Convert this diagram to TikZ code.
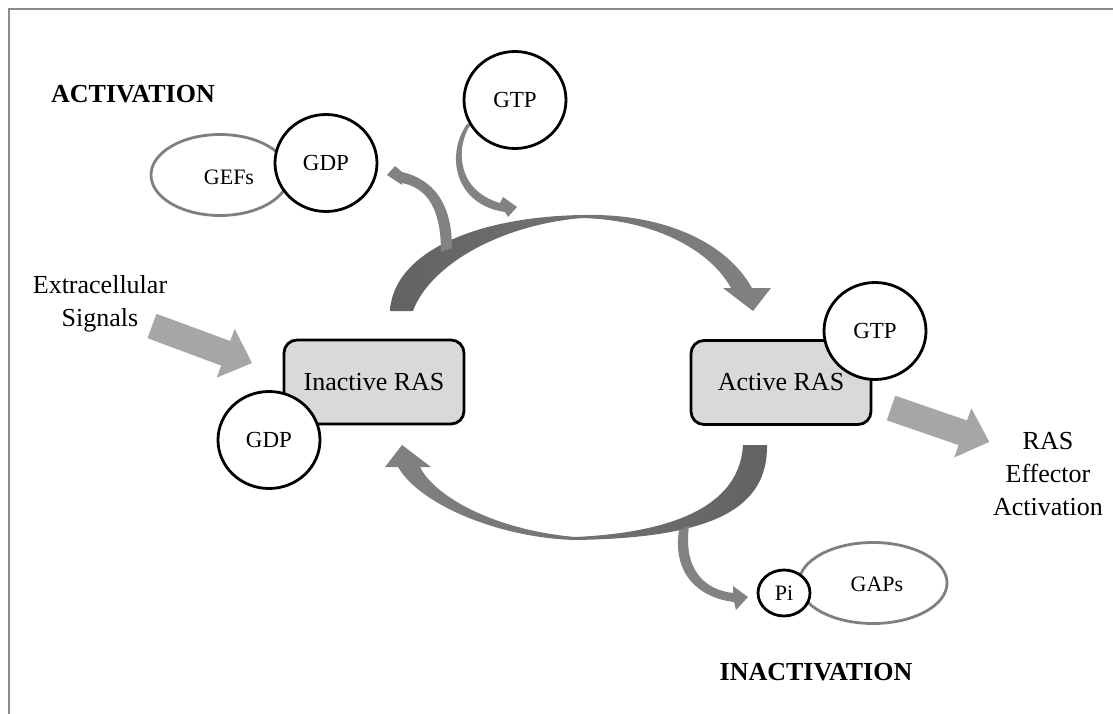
\documentclass[tikz,border=0pt]{standalone}
\usepackage{fontspec}
\setmainfont{Liberation Serif}
\usetikzlibrary{shapes.geometric}
\definecolor{boxgray}{HTML}{D9D9D9}
\definecolor{arrowlight}{HTML}{A6A6A6}
\definecolor{arcdark}{HTML}{626262}
\definecolor{arcmid}{HTML}{828282}
\definecolor{ellgray}{HTML}{7F7F7F}
\definecolor{framegray}{HTML}{8C8C8C}
\begin{document}
\begin{tikzpicture}[x=1pt,y=-1pt,
  mol/.style={ellipse, draw=black, line width=2.8pt, fill=white, minimum width=102pt, minimum height=97pt, inner sep=0pt, font=\fontsize{23}{25}\selectfont},
  enz/.style={ellipse, draw=ellgray, line width=2.8pt, fill=white, inner sep=0pt, font=\fontsize{22}{24}\selectfont},
  rasbox/.style={rectangle, rounded corners=13pt, draw=black, line width=2.8pt, fill=boxgray, minimum width=180pt, minimum height=84pt, inner sep=0pt, font=\fontsize{26}{28}\selectfont},
  lbl/.style={font=\fontsize{26}{33}\selectfont, align=center, inner sep=0pt},
  stage/.style={font=\bfseries\fontsize{26}{28}\selectfont, inner sep=0pt},
  blockarrow/.style={fill=arrowlight, draw=none},
  flow/.style={fill=arcmid, draw=none}]
\useasboundingbox (0,0) rectangle (1113,714);
% frame
\draw[framegray, line width=2pt] (9,714) -- (9,9) -- (1113,9);

% top arc (inactive -> active)
\path[left color=arcdark, right color=arcmid]
  (390,311) .. controls (393,255) and (470,217) .. (582,215)
  .. controls (660,213) and (725,240) .. (752,288)
  -- (771,288) -- (753,311) -- (723,288) -- (731,288)
  .. controls (710,250) and (655,220) .. (582,218)
  .. controls (500,225) and (430,265) .. (413,311) -- cycle;
% GDP release branch
\path[flow]
  (452,248) .. controls (452,205) and (435,180) .. (402,172)
  -- (395,166) -- (387,175) -- (402,185) -- (402,183)
  .. controls (428,188) and (441,210) .. (441,252) -- cycle;
% GTP uptake branch
\path[flow]
  (471,124) .. controls (456,145) and (455,190) .. (500,203)
  -- (503,197) -- (517,207) -- (508,217) -- (505,212)
  .. controls (455,205) and (445,155) .. (467,124) -- cycle;

% bottom arc (active -> inactive)
\path[left color=arcmid, right color=arcdark]
  (767,445) .. controls (768,510) and (710,538) .. (575,540)
  .. controls (500,538) and (420,505) .. (398,467)
  -- (385,467) -- (402,445) -- (431,467) -- (420,467)
  .. controls (435,497) and (495,530) .. (575,537)
  .. controls (685,532) and (740,500) .. (743,445) -- cycle;
% Pi release branch
\path[flow]
  (679,530) .. controls (672,575) and (700,598) .. (734,602)
  -- (736,610) -- (748,597) -- (733,586) -- (733,593)
  .. controls (705,590) and (683,570) .. (689,526) -- cycle;

% straight block arrows
\path[blockarrow] (147.5,338.2) -- (156.5,313.8) -- (230.2,341.0) -- (234.7,328.9)
  -- (252,363) -- (216.7,377.7) -- (221.2,365.6) -- cycle;
\path[blockarrow] (886.8,420.3) -- (895.2,395.7) -- (967.0,420.5) -- (971.3,408.2)
  -- (989.3,441.9) -- (954.3,457.4) -- (958.6,445.1) -- cycle;

% enzymes
\node[enz, minimum width=138pt, minimum height=81pt] (gefs) at (220,175) {};
\node[enz, minimum width=148pt, minimum height=81pt] (gaps) at (873,583) {};
\node[font=\fontsize{22}{24}\selectfont] (gefslbl) at (229,177) {GEFs};
\node[font=\fontsize{22}{24}\selectfont] (gapslbl) at (877,584) {GAPs};

% nucleotides
\node[mol] (gdptop) at (326,163) {GDP};
\node[mol] (gtptop) at (515,100) {GTP};
\node[mol, minimum width=52pt, minimum height=46pt, font=\fontsize{22}{24}\selectfont] (pi) at (784,593) {Pi};

% RAS boxes
\node[rasbox] (inactive) at (374,382) {Inactive RAS};
\node[rasbox] (active) at (781,382.5) {Active RAS};
\node[mol] (gdpbot) at (269,440) {GDP};
\node[mol] (gtpright) at (875,331) {GTP};

% labels
\node[stage] (act) at (133,94) {ACTIVATION};
\node[stage] (inact) at (816,672) {INACTIVATION};
\node[lbl] (extra) at (100,304) {Extracellular\\Signals};
\node[lbl] (effector) at (1048,474) {RAS\\Effector\\Activation};
\end{tikzpicture}
\end{document}
